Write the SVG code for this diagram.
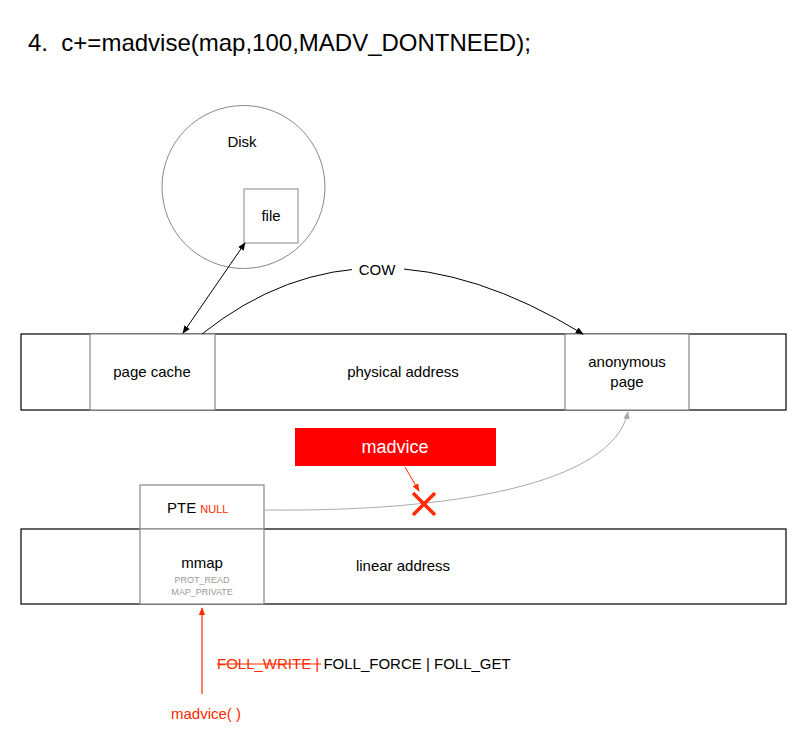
<svg xmlns="http://www.w3.org/2000/svg" width="806" height="747" viewBox="0 0 806 747">
<style>
text{font-family:"Liberation Sans",Arial,sans-serif;fill:#000;}
.t{font-size:15px;text-anchor:middle;}
.s{font-size:9px;fill:#999;text-anchor:middle;}
.red{fill:#FF2A00;}
.blk{fill:#fff;stroke:#000;stroke-width:1.2;}
.gry{fill:#fff;stroke:#888;stroke-width:1.2;}
</style>
<defs>
<marker id="ak" viewBox="0 0 10 10" refX="9" refY="5" markerWidth="8" markerHeight="8" markerUnits="userSpaceOnUse" orient="auto-start-reverse"><path d="M0,1 L10,5 L0,9 z" fill="#000"/></marker>
<marker id="ag" viewBox="0 0 10 10" refX="9" refY="5" markerWidth="8" markerHeight="8" markerUnits="userSpaceOnUse" orient="auto"><path d="M0,1 L10,5 L0,9 z" fill="#aaa"/></marker>
<marker id="ar" viewBox="0 0 10 10" refX="9" refY="5" markerWidth="8" markerHeight="8" markerUnits="userSpaceOnUse" orient="auto"><path d="M0,1 L10,5 L0,9 z" fill="#FF2A00"/></marker>
</defs>
<rect width="806" height="747" fill="#fff"/>
<text x="28" y="51" style="font-size:24px" xml:space="preserve">4.  c+=madvise(map,100,MADV_DONTNEED);</text>

<g id="disk">
<circle cx="243.5" cy="187" r="81.5" fill="#fff" stroke="#888" stroke-width="1"/>
<text class="t" x="242" y="147">Disk</text>
</g>
<g id="file">
<rect x="244" y="189" width="54" height="54" fill="#fff" stroke="#888" stroke-width="1"/>
<text class="t" x="271" y="221">file</text>
</g>

<g id="physical">
<rect class="blk" x="21" y="334" width="765" height="76"/>
<text class="t" x="403" y="377">physical address</text>
</g>
<g id="pagecache">
<rect class="gry" x="90" y="334" width="125" height="76"/>
<text class="t" x="152" y="377">page cache</text>
</g>
<g id="anon">
<rect class="gry" x="565" y="334" width="124" height="76"/>
<text class="t" x="627" y="367">anonymous</text>
<text class="t" x="627" y="387">page</text>
</g>

<g id="linear">
<rect class="blk" x="21" y="529" width="765" height="75"/>
<text class="t" x="403" y="571">linear address</text>
</g>
<g id="pte">
<rect class="gry" x="140" y="485" width="124" height="44"/>
<text x="167" y="513" style="font-size:15px">PTE <tspan class="red" style="font-size:11px">NULL</tspan></text>
</g>
<g id="mmap">
<rect class="gry" x="140" y="529" width="124" height="75"/>
<text class="t" x="202" y="568">mmap</text>
<text class="s" x="202" y="583">PROT_READ</text>
<text class="s" x="202" y="595">MAP_PRIVATE</text>
</g>

<g id="madvice">
<rect x="295" y="428" width="201" height="38" fill="#FF0000"/>
<text x="395" y="453" style="font-size:18px;fill:#fff;text-anchor:middle">madvice</text>
</g>

<g id="connectors" fill="none">
<path d="M245,243 L183,333" stroke="#000" stroke-width="1" marker-start="url(#ak)" marker-end="url(#ak)"/>
<path d="M202,334 Q367,202 583,334" stroke="#000" stroke-width="1" marker-end="url(#ak)"/>
<rect x="352" y="260" width="52" height="20" fill="#fff" stroke="none"/>
<text class="t" x="377" y="275">COW</text>
<path d="M264,510 C450,512 612,485 628,412" stroke="#aaa" stroke-width="1" marker-end="url(#ag)"/>
<path d="M405,467 L419,491" stroke="#FF2A00" stroke-width="1" marker-end="url(#ar)"/>
<path d="M413,493 L435,515 M435,493 L413,515" stroke="#FF2A00" stroke-width="3.5"/>
<path d="M202,694 L202,608" stroke="#FF2A00" stroke-width="1.2" marker-end="url(#ar)"/>
</g>

<g id="labels">
<text x="206" y="719" class="red" style="font-size:15px;text-anchor:middle">madvice( )</text>
<text x="217" y="669" style="font-size:15px"><tspan class="red">FOLL_WRITE |</tspan> FOLL_FORCE | FOLL_GET</text>
<line x1="217" y1="664" x2="321" y2="664" stroke="#FF2A00" stroke-width="1"/>
</g>
</svg>
